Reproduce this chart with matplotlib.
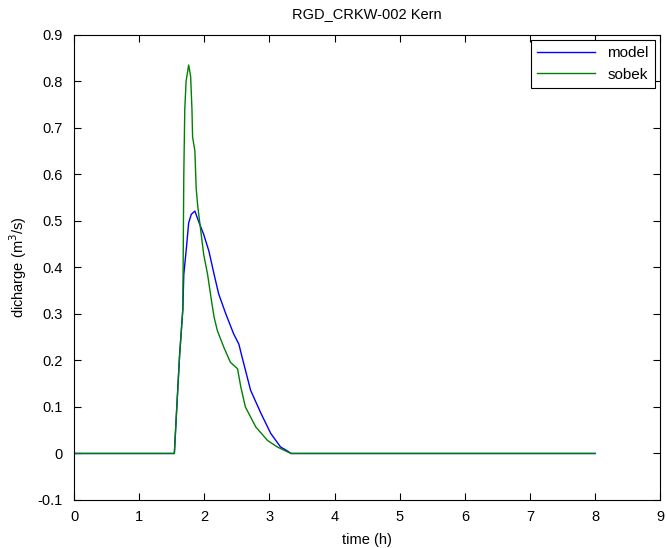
import numpy as np
import matplotlib
matplotlib.use("Agg")
import matplotlib.pyplot as plt

plt.rcParams['font.family'] = ['Liberation Sans', 'DejaVu Sans']

# model (blue)
t_model = [0, 1.54, 1.57, 1.62, 1.67, 1.685, 1.725, 1.76, 1.80, 1.855, 1.92, 1.99,
           2.07, 2.15, 2.22, 2.33, 2.45, 2.53, 2.58, 2.71, 2.87, 3.02, 3.17, 3.28,
           3.33, 8.0]
q_model = [0, 0, 0.08, 0.21, 0.31, 0.385, 0.442, 0.496, 0.514, 0.521, 0.496, 0.471,
           0.435, 0.385, 0.343, 0.300, 0.257, 0.235, 0.207, 0.136, 0.086, 0.043,
           0.014, 0.005, 0, 0]

# sobek (green)
t_sobek = [0, 1.54, 1.57, 1.62, 1.67, 1.685, 1.70, 1.72, 1.76, 1.79, 1.81, 1.82,
           1.855, 1.875, 1.90, 1.94, 1.99, 2.05, 2.11, 2.15, 2.20, 2.30, 2.40, 2.51,
           2.56, 2.63, 2.79, 2.97, 3.12, 3.33, 8.0]
q_sobek = [0, 0, 0.08, 0.21, 0.31, 0.60, 0.74, 0.80, 0.835, 0.81, 0.74, 0.68,
           0.65, 0.57, 0.53, 0.485, 0.428, 0.385, 0.328, 0.293, 0.264, 0.228, 0.196,
           0.182, 0.143, 0.100, 0.057, 0.028, 0.014, 0.0, 0]

fig = plt.figure(figsize=(6.67, 5.48), dpi=100)
ax = fig.add_axes([0.111, 0.0876, 0.879, 0.849])

ax.plot(t_model, q_model, color="#0000ff", lw=1, label="model")
ax.plot(t_sobek, q_sobek, color="#008000", lw=1, label="sobek")

ax.set_xlim(0, 9)
ax.set_ylim(-0.1, 0.9)
ax.set_xticks(np.arange(0, 10, 1))
ax.set_yticks(np.round(np.arange(-0.1, 0.95, 0.1), 1))
ax.set_yticklabels(["-0.1", "0", "0.1", "0.2", "0.3", "0.4", "0.5", "0.6", "0.7", "0.8", "0.9"])
ax.tick_params(direction="in", top=True, right=True, labelsize=10.5, length=5)
ax.tick_params(axis="x", pad=7.5)
ax.tick_params(axis="y", pad=8)

ax.set_title("RGD_CRKW-002 Kern", fontsize=10.5, pad=12)
ax.set_xlabel("time (h)", fontsize=10.5, labelpad=6)
ax.set_ylabel("dicharge (m$^3$/s)", fontsize=10.5, labelpad=6)

leg = ax.legend(loc="upper right", fontsize=11, fancybox=False, edgecolor="black",
                framealpha=1, borderaxespad=0.35, handlelength=3.8)
leg.get_frame().set_linewidth(0.8)

fig.savefig("out.png", dpi=100)
